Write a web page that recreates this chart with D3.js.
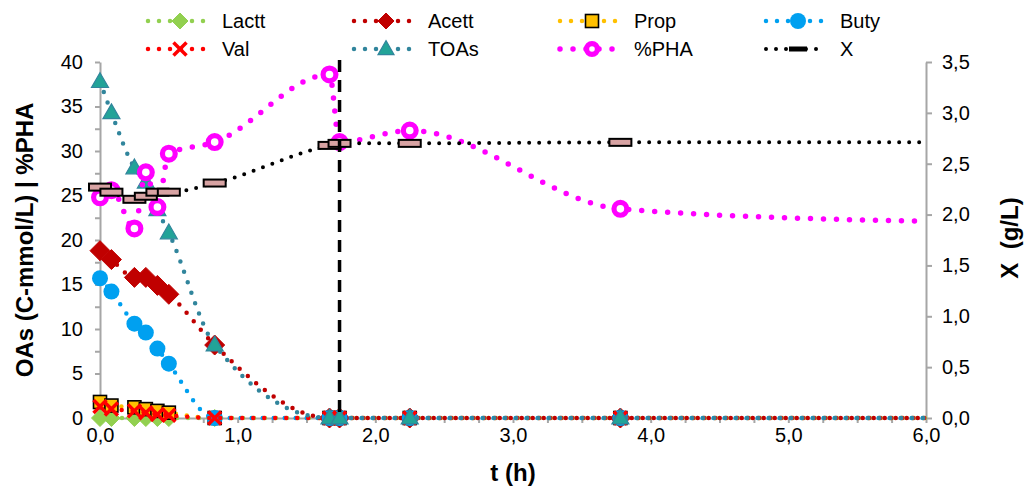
<!DOCTYPE html>
<html>
<head>
<meta charset="utf-8">
<script src="https://cdn.jsdelivr.net/npm/d3@7"></script>
<style>
  html, body { margin: 0; padding: 0; background: #fff; }
  svg { display: block; font-family: "Liberation Sans", Arial, sans-serif; }
</style>
</head>
<body>
<svg id="chart" width="1027" height="487"></svg>
<script>
// ---------------- DATA ----------------
const time    = [0, 0.083, 0.25, 0.333, 0.417, 0.5, 0.833, 1.667, 1.74, 2.25, 3.78, 6.0];
const lactt   = [0, 0, 0, 0, 0, 0, 0, 0, 0, 0, 0, 0];
const acett   = [18.8, 17.8, 15.8, 15.8, 14.9, 13.9, 8.2, 0, 0, 0, 0, 0];
const prop    = [1.8, 1.4, 1.2, 1.0, 0.8, 0.6, 0, 0, 0, 0, 0, 0];
const buty    = [15.7, 14.2, 10.6, 9.6, 7.8, 6.1, 0, 0, 0, 0, 0, 0];
const val     = [1.3, 1.0, 0.8, 0.6, 0.4, 0.3, 0, 0, 0, 0, 0, 0];
const toas    = [37.8, 34.3, 28.1, 26.5, 23.4, 20.8, 8.2, 0, 0, 0, 0, 0];
const pha     = [24.8, 25.6, 21.3, 27.6, 23.7, 29.7, 31.0, 38.6, 31.0, 32.3, 23.5, 22.1];
const biomass = [2.27, 2.22, 2.15, 2.18, 2.22, 2.22, 2.31, 2.68, 2.70, 2.70, 2.71, 2.71];
// last time point (6.0) is drawn as line end only, without marker
const markerCount = 11;
const phaseT = 1.74;   // vertical dashed separator

const xTicks  = d3.range(0, 6.001, 0.25);
const yLTicks = d3.range(0, 40.001, 2.5);
const yRTicks = d3.range(0, 3.501, 0.5);

const seriesNames = ["Lactt", "Acett", "Prop", "Buty", "Val", "TOAs", "%PHA", "X"];

// ---------------- SETUP ----------------
const svg = d3.select("#chart");
const x  = d3.scaleLinear().domain([0, 6]).range([100, 926]);
const yL = d3.scaleLinear().domain([0, 40]).range([418, 62]);
const yR = d3.scaleLinear().domain([0, 3.5]).range([418, 62]);

const axisColor = "#A6A6A6";
const comma = v => v.toFixed(1).replace(".", ",");

// ---- series styles ----
const styles = [
  {vals: lactt,   axis: "L", color: "#92D050", lw: 4.5, gap: 11, marker: "diamond",  fill: "#92D050", stroke: "#92D050", size: 17},
  {vals: acett,   axis: "L", color: "#C00000", lw: 4.5, gap: 11, marker: "diamond",  fill: "#C00000", stroke: "#C00000", size: 20},
  {vals: prop,    axis: "L", color: "#FFC000", lw: 4.5, gap: 11, marker: "square",   fill: "#FFC000", stroke: "#000000", size: 13},
  {vals: buty,    axis: "L", color: "#00A0F0", lw: 4.5, gap: 11, marker: "circle",   fill: "#00A0F0", stroke: "#00A0F0", size: 16},
  {vals: val,     axis: "L", color: "#FF0000", lw: 4.5, gap: 11, marker: "x",        fill: "none",    stroke: "#FF0000", size: 13},
  {vals: toas,    axis: "L", color: "#31859C", lw: 4.5, gap: 11, marker: "triangle", fill: "#22A398", stroke: "#31859C", size: 17},
  {vals: pha,     axis: "L", color: "#FF00FF", lw: 5.5, gap: 13, marker: "ring",     fill: "#FFFFFF", stroke: "#FF00FF", size: 18},
  {vals: biomass, axis: "R", color: "#000000", lw: 4,   gap: 10, marker: "rect",     fill: "#D8A3A3", stroke: "#000000", size: 22}
];
const series = styles.map((s, i) => Object.assign({name: seriesNames[i]}, s));

function marker(g, m, cx, cy, sz, legend) {
  const h = sz / 2;
  if (m.marker === "diamond") {
    g.append("path").attr("d", `M${cx},${cy-h}L${cx+h},${cy}L${cx},${cy+h}L${cx-h},${cy}Z`)
      .attr("fill", m.fill).attr("stroke", m.stroke).attr("stroke-width", 1);
  } else if (m.marker === "square") {
    g.append("rect").attr("x", cx-h).attr("y", cy-h).attr("width", sz).attr("height", sz)
      .attr("fill", m.fill).attr("stroke", m.stroke).attr("stroke-width", 1.6);
  } else if (m.marker === "circle") {
    g.append("circle").attr("cx", cx).attr("cy", cy).attr("r", h).attr("fill", m.fill);
  } else if (m.marker === "x") {
    g.append("path").attr("d", `M${cx-h},${cy-h}L${cx+h},${cy+h}M${cx-h},${cy+h}L${cx+h},${cy-h}`)
      .attr("stroke", m.stroke).attr("stroke-width", 3.5).attr("fill", "none");
  } else if (m.marker === "triangle") {
    const th = sz * 0.87;
    g.append("path").attr("d", `M${cx},${cy-th*0.6}L${cx+h},${cy+th*0.4}L${cx-h},${cy+th*0.4}Z`)
      .attr("fill", m.fill).attr("stroke", m.stroke).attr("stroke-width", 1.2);
  } else if (m.marker === "ring") {
    g.append("circle").attr("cx", cx).attr("cy", cy).attr("r", h - 2.6)
      .attr("fill", m.fill).attr("stroke", m.stroke).attr("stroke-width", 5.2);
  } else if (m.marker === "rect") {
    if (legend) {
      g.append("rect").attr("x", cx-h).attr("y", cy-2.5).attr("width", sz).attr("height", 5)
        .attr("fill", "#000");
    } else {
      g.append("rect").attr("x", cx-h).attr("y", cy-3.5).attr("width", sz).attr("height", 7)
        .attr("fill", m.fill).attr("stroke", m.stroke).attr("stroke-width", 2);
    }
  }
}

// ---------------- AXES ----------------
const gL = svg.append("g").attr("transform", "translate(100,0)")
  .call(d3.axisLeft(yL).tickValues(yLTicks).tickSize(5).tickSizeOuter(0).tickPadding(12)
    .tickFormat(d => (d % 5 === 0 ? d3.format("d")(d) : "")));
const gB = svg.append("g").attr("transform", "translate(0,418)")
  .call(d3.axisBottom(x).tickValues(xTicks).tickSize(5).tickSizeOuter(0).tickPadding(5)
    .tickFormat(d => (Math.abs(d - Math.round(d)) < 1e-9 ? comma(d) : "")));
const gR = svg.append("g").attr("transform", "translate(926,0)")
  .call(d3.axisRight(yR).tickValues(yRTicks).tickSize(6).tickSizeOuter(0).tickPadding(10)
    .tickFormat(comma));

[gL, gB, gR].forEach(g => {
  g.select(".domain").attr("stroke", axisColor).attr("stroke-width", 2);
  g.selectAll(".tick line").attr("stroke", axisColor).attr("stroke-width", 2);
  g.selectAll(".tick text").attr("fill", "#000").style("font-size", "20px")
    .style("font-family", "'Liberation Sans', Arial, sans-serif");
});

// axis titles
svg.append("text").attr("transform", "translate(33,240) rotate(-90)")
  .attr("text-anchor", "middle").style("font-size", "24px").style("font-weight", "bold")
  .text("OAs (C-mmol/L) | %PHA");
svg.append("text").attr("transform", "translate(1018,238) rotate(-90)")
  .attr("text-anchor", "middle").style("font-size", "24px").style("font-weight", "bold")
  .text("X\u00A0\u00A0(g/L)");
svg.append("text").attr("x", 513).attr("y", 481)
  .attr("text-anchor", "middle").style("font-size", "24px").style("font-weight", "bold")
  .text("t (h)");

// ---------------- SERIES ----------------
const plot = svg.append("g");
series.forEach(s => {
  const ys = s.axis === "L" ? yL : yR;
  const pts = time.map((t, i) => [x(t), ys(s.vals[i])]);
  const line = d3.line().curve(d3.curveMonotoneX);
  plot.append("path").attr("d", line(pts)).attr("fill", "none")
    .attr("stroke", s.color).attr("stroke-width", s.lw)
    .attr("stroke-linecap", "round").attr("stroke-dasharray", `0 ${s.gap}`);
  const mg = plot.append("g");
  pts.slice(0, markerCount).forEach(p => marker(mg, s, p[0], p[1], s.size, false));
});

// vertical dashed separator
svg.append("line").attr("x1", x(phaseT)).attr("x2", x(phaseT))
  .attr("y1", 60).attr("y2", yL(0))
  .attr("stroke", "#000").attr("stroke-width", 3.5).attr("stroke-dasharray", "12 8");

// ---------------- LEGEND ----------------
const legTextX = [222, 428, 634, 840];
const legRowY  = [21, 49];
series.forEach((s, i) => {
  const col = i % 4, row = Math.floor(i / 4);
  const tx = legTextX[col], ty = legRowY[row];
  const g = svg.append("g");
  g.append("line").attr("x1", tx - 74).attr("x2", tx - 16).attr("y1", ty).attr("y2", ty)
    .attr("stroke", s.color).attr("stroke-width", s.lw).attr("stroke-linecap", "round")
    .attr("stroke-dasharray", `0 ${s.gap}`);
  const sz = s.marker === "rect" ? 18 : Math.min(s.size, 16);
  marker(g, s, tx - 42, ty, sz, true);
  g.append("text").attr("x", tx).attr("y", ty).attr("dy", "0.35em")
    .style("font-size", "20px").text(s.name);
});
</script>
</body>
</html>
